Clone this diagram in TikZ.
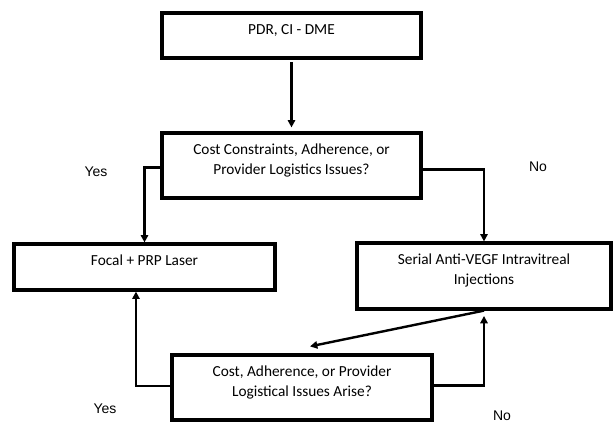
\documentclass[tikz,border=0pt]{standalone}
\usepackage{fontspec}
\setmainfont{Carlito}
\newfontfamily\answerfont{Liberation Sans}
\usetikzlibrary{arrows.meta,positioning}

\begin{document}
\begin{tikzpicture}[x=0.75pt,y=-0.75pt,
  flowbox/.style={shape=rectangle,draw=black,line width=2.4pt,align=center,inner sep=0pt,text depth=9.5pt,font=\fontsize{11.5}{15}\selectfont},
  flowline/.style={-{Triangle[length=5.5pt,width=5.5pt]},line width=1.8pt},
  answer/.style={font=\answerfont\fontsize{10.5}{12}\selectfont}]

\useasboundingbox (0,0) rectangle (613,422);

% Top row
\node [flowbox,minimum width=194.25pt,minimum height=33.75pt] at (291.5,35.5) (pdr) {PDR, CI - DME};

% Second row
\node [flowbox,minimum width=194.25pt,minimum height=48.75pt] at (291.5,165.5) (costq) {Cost Constraints, Adherence, or\\Provider Logistics Issues?};

% Third row
\node [flowbox,minimum width=195.75pt,minimum height=34.5pt] at (144.5,267) (laser) {Focal + PRP Laser};
\node [flowbox,minimum width=190.5pt,minimum height=49.5pt] at (484,276) (vegf) {Serial Anti-VEGF Intravitreal\\Injections};

% Fourth row
\node [flowbox,minimum width=195pt,minimum height=48.75pt] at (302,387.5) (arise) {Cost, Adherence, or Provider\\Logistical Issues Arise?};

% Answers
\node [answer] at (96,172) (yes_top) {Yes};
\node [answer] at (538,167) (no_top) {No};
\node [answer] at (105,409) (yes_bot) {Yes};
\node [answer] at (502,416) (no_bot) {No};

% Lines between boxes
\draw [flowline,shorten <=2pt,shorten >=3pt] (pdr) -- (costq);
\draw [flowline] ([yshift=-1.5pt]costq.west) -| (laser.north);
\draw [flowline] ([yshift=-3pt]costq.east) -| (vegf.north);
\draw [flowline] (vegf.south) -- ([shift={(8,-7)}]arise.north);
\draw [flowline] ([yshift=1pt]arise.west) -| ([xshift=-6.4pt]laser.south);
\draw [flowline,shorten >=4pt] ([yshift=1.5pt]arise.east) -| (vegf.south);

\end{tikzpicture}
\end{document}
